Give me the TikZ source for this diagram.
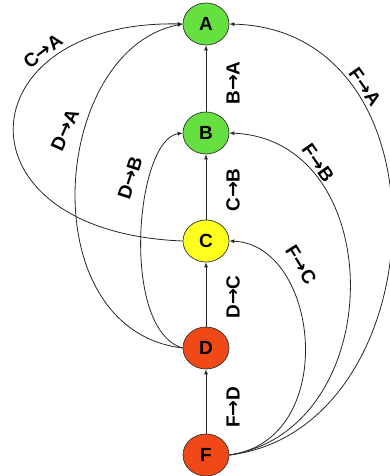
\documentclass[tikz,border=0pt]{standalone}
\usepackage{fontspec}
\setmainfont{Liberation Sans}
\newfontfamily\arrowfont{DejaVu Sans}
\newcommand\myarrow{{\arrowfont\bfseries →}}
\usetikzlibrary{arrows.meta,shapes.geometric}
\definecolor{ngreen}{RGB}{102,224,64}
\definecolor{nyellow}{RGB}{255,255,30}
\definecolor{nred}{RGB}{240,72,22}
\begin{document}
\begin{tikzpicture}[x=1pt,y=-1pt,
  vert/.style={ellipse,draw=black!80,line width=0.7pt,minimum width=46pt,minimum height=42pt,inner sep=0pt,font=\bfseries\fontsize{19}{19}\selectfont},
  conn/.style={draw=black!85,line width=0.8pt,-{Latex[length=5pt,width=4pt]}},
  lab/.style={font=\bfseries\fontsize{19}{19}\selectfont,inner sep=0pt}]
\useasboundingbox (0,0) rectangle (389,476);
\node[vert,fill=ngreen] (A) at (206,24) {A};
\node[vert,fill=ngreen] (B) at (206,133) {B};
\node[vert,fill=nyellow] (C) at (206,241) {C};
\node[vert,fill=nred] (D) at (206,348) {D};
\node[vert,fill=nred] (F) at (206,455) {F};
% straight
\draw[conn] (B) -- (A);
\draw[conn] (C) -- (B);
\draw[conn] (D) -- (C);
\draw[conn] (F) -- (D);
% left curves
\draw[conn] (C.west) .. controls (-50,232) and (-35,20) .. (A.west);
\draw[conn] (D.west) .. controls (30,330) and (50,50) .. (A.west);
\draw[conn] (D.west) .. controls (120,330) and (135,140) .. (B.west);
% right curves
\draw[conn] (F.east) .. controls (436,430) and (456,30) .. (A.east);
\draw[conn] (F.east) .. controls (390,430) and (390,140) .. (B.east);
\draw[conn] (F.east) .. controls (340,440) and (320,245) .. (C.east);
% labels
\node[lab,rotate=90] (lBA) at (233,83) {B\myarrow A};
\node[lab,rotate=90] (lCB) at (233,190) {C\myarrow B};
\node[lab,rotate=90] (lDC) at (233,297) {D\myarrow C};
\node[lab,rotate=90] (lFD) at (233,407) {F\myarrow D};
\node[lab,rotate=38] (lCA) at (43,51) {C\myarrow A};
\node[lab,rotate=66] (lDA) at (65,130) {D\myarrow A};
\node[lab,rotate=72] (lDB) at (130,178) {D\myarrow B};
\node[lab,rotate=-55] (lFA) at (365,87) {F\myarrow A};
\node[lab,rotate=-55] (lFB) at (318,163) {F\myarrow B};
\node[lab,rotate=-58] (lFC) at (301,265) {F\myarrow C};
\end{tikzpicture}
\end{document}
